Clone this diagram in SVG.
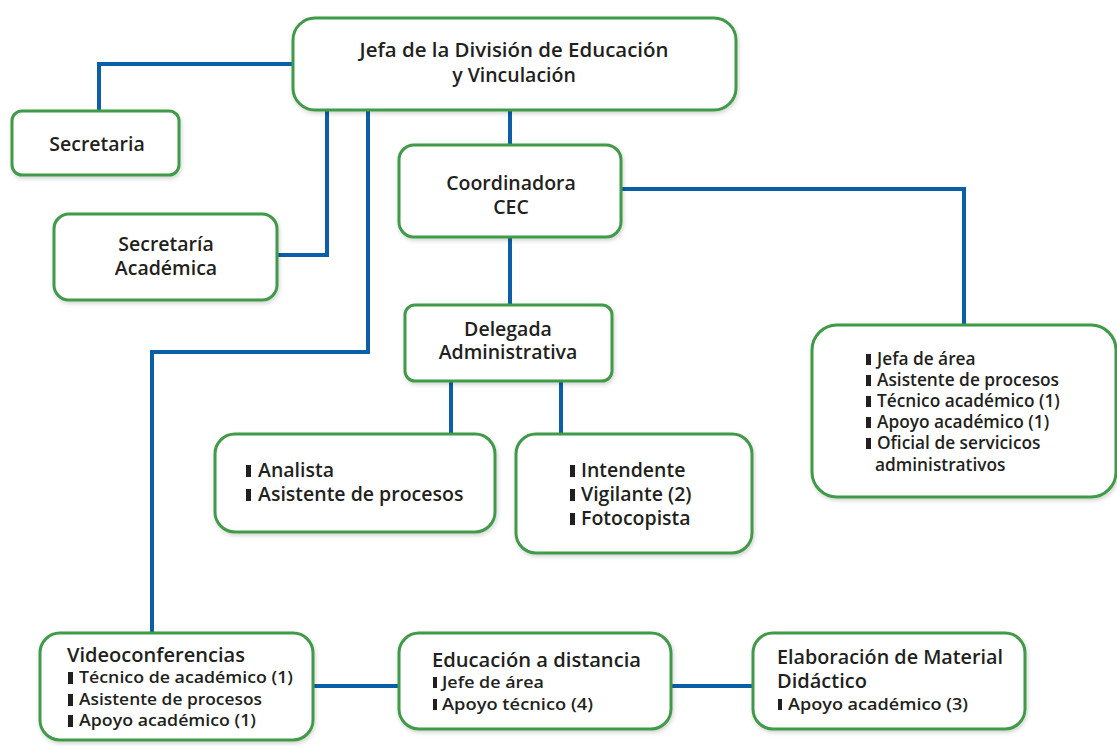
<svg xmlns="http://www.w3.org/2000/svg" width="1117" height="746" viewBox="0 0 1117 746">
<style>
.box{fill:#fff;stroke:#3f9a47;stroke-width:3;filter:url(#sh)}
.ln{fill:none;stroke:#0b5fa9;stroke-width:4}
text{font-family:"Open Sans","Noto Sans",sans-serif;font-weight:600;fill:#231f20}
.t{font-size:19.5px}
.c{text-anchor:middle}
.s{font-size:17.3px}
.v{font-size:16.5px}
.b{fill:#231f20}
</style>
<defs>
<filter id="sh" x="-10%" y="-10%" width="120%" height="130%">
<feDropShadow dx="1" dy="2" stdDeviation="2" flood-color="#000" flood-opacity="0.18"/>
</filter>
</defs>
<g id="connectors">
<polyline class="ln" points="293,64 99,64 99,111"/>
<polyline class="ln" points="327,110 327,255 277,255"/>
<polyline class="ln" points="368,110 368,352 152,352 152,633"/>
<line class="ln" x1="510" y1="110" x2="510" y2="145"/>
<polyline class="ln" points="621,189 964,189 964,325"/>
<line class="ln" x1="510" y1="237" x2="510" y2="305"/>
<line class="ln" x1="451" y1="381" x2="451" y2="434"/>
<line class="ln" x1="561" y1="381" x2="561" y2="434"/>
<line class="ln" x1="313" y1="686" x2="399" y2="686"/>
<line class="ln" x1="671" y1="686" x2="753" y2="686"/>
</g>
<g id="jefa">
<rect class="box" x="293" y="18" width="443" height="92" rx="22"/>
<text class="t c" x="514" y="57" textLength="309" lengthAdjust="spacingAndGlyphs">Jefa de la División de Educación</text>
<text class="t c" x="514" y="82">y Vinculación</text>
</g>
<g id="secretaria">
<rect class="box" x="12" y="111" width="167" height="64" rx="10"/>
<text class="t c" x="97" y="151">Secretaria</text>
</g>
<g id="secretaria-academica">
<rect class="box" x="54" y="214" width="223" height="86" rx="15"/>
<text class="t c" x="166" y="251">Secretaría</text>
<text class="t c" x="166" y="275">Académica</text>
</g>
<g id="coordinadora">
<rect class="box" x="399" y="145" width="222" height="92" rx="15"/>
<text class="t c" x="511" y="190">Coordinadora</text>
<text class="t c" x="511" y="214">CEC</text>
</g>
<g id="delegada">
<rect class="box" x="405" y="305" width="207" height="76" rx="10"/>
<text class="t c" x="508" y="336">Delegada</text>
<text class="t c" x="508" y="359">Administrativa</text>
</g>
<g id="analista">
<rect class="box" x="215" y="434" width="280" height="98" rx="20"/>
<rect class="b" x="246" y="465" width="5" height="12"/>
<rect class="b" x="246" y="489" width="5" height="12"/>
<text class="t" x="258" y="477">Analista</text>
<text class="t" x="258" y="501">Asistente de procesos</text>
</g>
<g id="intendente">
<rect class="box" x="516" y="434" width="236" height="119" rx="20"/>
<rect class="b" x="570" y="465" width="5" height="12"/>
<rect class="b" x="570" y="489" width="5" height="12"/>
<rect class="b" x="570" y="513" width="5" height="12"/>
<text class="t" x="581" y="477">Intendente</text>
<text class="t" x="581" y="501">Vigilante (2)</text>
<text class="t" x="581" y="525">Fotocopista</text>
</g>
<g id="jefa-area">
<rect class="box" x="812" y="325" width="304" height="172" rx="25"/>
<rect class="b" x="866" y="354" width="5" height="11"/>
<rect class="b" x="866" y="375" width="5" height="11"/>
<rect class="b" x="866" y="396" width="5" height="11"/>
<rect class="b" x="866" y="417" width="5" height="11"/>
<rect class="b" x="866" y="438" width="5" height="11"/>
<text class="s" x="877" y="365">Jefa de área</text>
<text class="s" x="877" y="386">Asistente de procesos</text>
<text class="s" x="877" y="407">Técnico académico (1)</text>
<text class="s" x="877" y="428">Apoyo académico (1)</text>
<text class="s" x="877" y="449">Oficial de servicicos</text>
<text class="s" x="875" y="471">administrativos</text>
</g>
<g id="videoconferencias">
<rect class="box" x="40" y="633" width="273" height="107" rx="20"/>
<text class="t" x="67" y="662" textLength="178" lengthAdjust="spacingAndGlyphs">Videoconferencias</text>
<rect class="b" x="68" y="672" width="5" height="12"/>
<rect class="b" x="68" y="694" width="5" height="12"/>
<rect class="b" x="68" y="715" width="5" height="12"/>
<text class="v" x="79" y="683" textLength="214" lengthAdjust="spacingAndGlyphs">Técnico de académico (1)</text>
<text class="v" x="79" y="705" textLength="183" lengthAdjust="spacingAndGlyphs">Asistente de procesos</text>
<text class="v" x="79" y="726" textLength="177" lengthAdjust="spacingAndGlyphs">Apoyo académico (1)</text>
</g>
<g id="educacion-distancia">
<rect class="box" x="399" y="633" width="272" height="96" rx="20"/>
<text class="t" x="432" y="667" textLength="209" lengthAdjust="spacingAndGlyphs">Educación a distancia</text>
<rect class="b" x="433" y="677" width="4" height="11"/>
<rect class="b" x="433" y="699" width="4" height="11"/>
<text class="v" x="442" y="688" textLength="102" lengthAdjust="spacingAndGlyphs">Jefe de área</text>
<text class="v" x="442" y="710" textLength="151" lengthAdjust="spacingAndGlyphs">Apoyo técnico (4)</text>
</g>
<g id="elaboracion">
<rect class="box" x="753" y="633" width="272" height="96" rx="20"/>
<text class="t" x="777" y="664" textLength="226" lengthAdjust="spacingAndGlyphs">Elaboración de Material</text>
<text class="t" x="777" y="688" textLength="90" lengthAdjust="spacingAndGlyphs">Didáctico</text>
<rect class="b" x="778" y="699" width="4" height="11"/>
<text class="v" x="788" y="710" textLength="180" lengthAdjust="spacingAndGlyphs">Apoyo académico (3)</text>
</g>
</svg>
